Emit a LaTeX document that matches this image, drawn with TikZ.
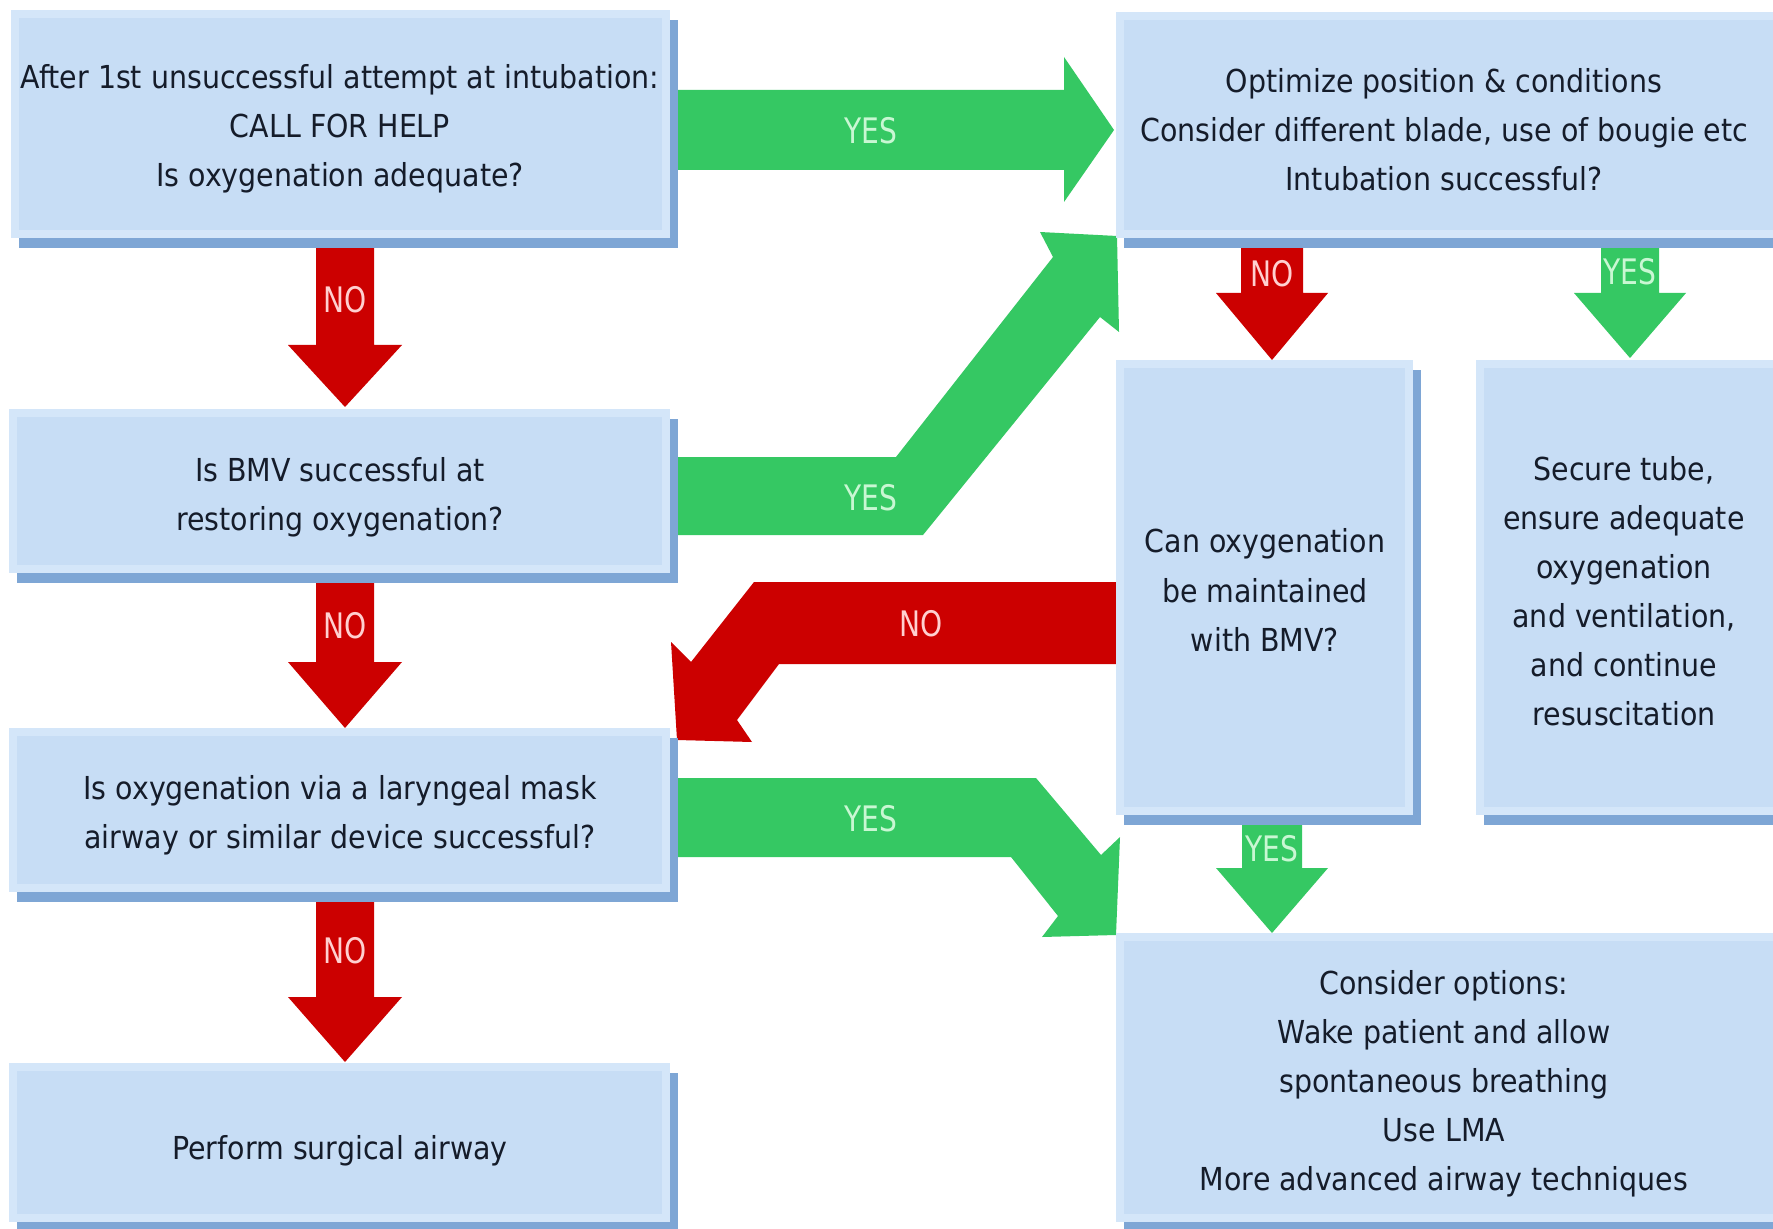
\documentclass[tikz,border=0pt]{standalone}
\usepackage{fontspec}
\setmainfont{DejaVu Sans}[FakeStretch=0.9]
\newfontfamily\lblfont{DejaVu Sans}[FakeStretch=0.8]
\definecolor{shadowc}{HTML}{7EA6D5}
\definecolor{rimc}{HTML}{D4E6F9}
\definecolor{innerc}{HTML}{C7DDF5}
\definecolor{txtc}{HTML}{151C2A}
\definecolor{grn}{HTML}{35C863}
\definecolor{rd}{HTML}{CC0000}
\definecolor{yestxt}{HTML}{C9F7D3}
\definecolor{notxt}{HTML}{FFD0D0}
\newcommand\flowbox[8]{% name, x0, y0, x1, y1, text cx, text cy, text
  \fill[shadowc] ({#2+8},{#3+10}) rectangle ({#4+8},{#5+10});
  \fill[rimc] (#2,#3) rectangle (#4,#5);
  \fill[innerc] ({#2+8},{#3+8}) rectangle ({#4-8},{#5-8});
  \node[txt] (#1) at (#6,#7) {#8};
}
\newcommand\downblock[8]{% name, style, cx, shaft half, head half, y0, ybase, ytip
  \coordinate (#1s) at (#3,#6);
  \coordinate (#1t) at (#3,#8);
  \fill[#2] ({#3-#4},#6) -- ({#3+#4},#6) -- ({#3+#4},#7) -- ({#3+#5},#7)
    -- (#1t) -- ({#3-#5},#7) -- ({#3-#4},#7) -- cycle;
}
\begin{document}
\begin{tikzpicture}[x=0.02cm,y=-0.02cm,
  txt/.style={align=center, inner sep=0pt, text=txtc, font=\fontsize{18}{27.9}\selectfont},
  lbl/.style={inner sep=0pt, font=\lblfont\fontsize{20}{22}\selectfont},
  yeslbl/.style={lbl, text=yestxt},
  nolbl/.style={lbl, text=notxt},
  garrow/.style={fill=grn},
  rarrow/.style={fill=rd}]
\useasboundingbox (0,0) rectangle (1773,1229);
\clip (0,0) rectangle (1773,1229);
\fill[white] (0,0) rectangle (1773,1229);

% ---- block arrows ----
% top YES: box1 -> optimize
\fill[garrow] (675,90) -- (1064,90) -- (1064,57) -- (1114,130) -- (1064,202) -- (1064,170) -- (675,170) -- cycle;
% BMV YES bent up to optimize
\fill[garrow] (675,457) -- (896,457) -- (1053,257) -- (1040,232) -- (1117,236) -- (1119,332) -- (1100,317) -- (923,535) -- (675,535) -- cycle;
% NO from "Can oxygenation" to LMA
\fill[rarrow] (1118,582) -- (754,582) -- (691,662) -- (671,642) -- (677,740) -- (752,742) -- (737,720) -- (779,664) -- (1118,664) -- cycle;
% LMA YES bent down to options
\fill[garrow] (675,778) -- (1036,778) -- (1101,855) -- (1120,837) -- (1116,935) -- (1042,937) -- (1058,916) -- (1011,857) -- (675,857) -- cycle;
% vertical arrows
\downblock{a1}{rarrow}{345}{29}{57}{246}{345}{407}
\downblock{a2}{rarrow}{345}{29}{57}{582}{662}{728}
\downblock{a3}{rarrow}{345}{29}{57}{900}{997}{1062}
\downblock{a4}{rarrow}{1272}{31}{56}{246}{293}{360}
\downblock{a5}{garrow}{1630}{29}{56}{246}{293}{358}
\downblock{a6}{garrow}{1272}{30}{56}{823}{868}{933}

% ---- boxes ----
\flowbox{b1}{11}{10}{670}{238}{340}{129}{After 1st unsuccessful attempt at intubation:\\CALL FOR HELP\\Is oxygenation adequate?}
\flowbox{opt}{1116}{12}{1800}{238}{1444}{130}{Optimize position \& conditions\\Consider different blade, use of bougie etc\\Intubation successful?}
\flowbox{bmv}{9}{409}{670}{573}{340}{497}{Is BMV successful at\\restoring oxygenation?}
\flowbox{lma}{9}{728}{670}{892}{340}{815}{Is oxygenation via a laryngeal mask\\airway or similar device successful?}
\flowbox{surg}{9}{1063}{670}{1222}{340}{1151}{Perform surgical airway}
\flowbox{can}{1116}{360}{1413}{815}{1265}{590}{Can oxygenation\\be maintained\\with BMV?}
\flowbox{sec}{1476}{360}{1800}{815}{1624}{591}{Secure tube,\\ensure adequate\\oxygenation\\and ventilation,\\and continue\\resuscitation}
\flowbox{opts}{1116}{933}{1800}{1222}{1444}{1084}{Consider options:\\Wake patient and allow\\spontaneous breathing\\Use LMA\\More advanced airway techniques}

% ---- labels ----
\node[yeslbl] (l1) at (871,131) {YES};
\node[yeslbl] (l2) at (871,498) {YES};
\node[nolbl]  (l3) at (921,624) {NO};
\node[yeslbl] (l4) at (871,819) {YES};
\node[nolbl]  (l5) at (345,300) {NO};
\node[nolbl]  (l6) at (345,626) {NO};
\node[nolbl]  (l7) at (345,951) {NO};
\node[nolbl]  (l8) at (1272,274) {NO};
\node[yeslbl] (l9) at (1630,272) {YES};
\node[yeslbl] (l10) at (1272,849) {YES};
\end{tikzpicture}
\end{document}
